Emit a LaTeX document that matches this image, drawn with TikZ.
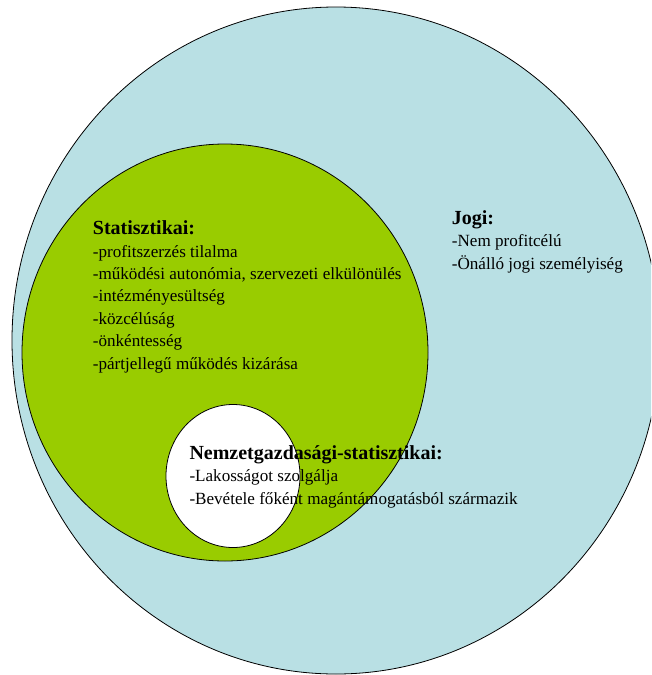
\documentclass[tikz,border=0pt]{standalone}
\usepackage{fontspec}
\setmainfont{Liberation Serif}
\usetikzlibrary{shapes.geometric}
\definecolor{jogikek}{RGB}{185,224,228}
\definecolor{statzold}{RGB}{153,204,0}
\tikzset{
  kor/.style={ellipse, draw=black, line width=0.8pt, inner sep=0pt},
  cimke/.style={align=left, inner sep=0pt, anchor=base west, font=\fontsize{17.1}{22.4}\selectfont},
}
\newcommand{\fejlec}[1]{{\fontsize{20}{22.4}\selectfont\bfseries #1}}
\begin{document}
\begin{tikzpicture}[x=1pt, y=-1pt]
        \useasboundingbox (0,0) rectangle (651,675);
        \clip (0,0) rectangle (651,675);

        \draw (336, 340.5) node(jogi)[kor, fill=jogikek, minimum width=648pt, minimum height=667pt]{};
        \draw (225, 352.5) node(stat)[kor, fill=statzold, minimum width=406pt, minimum height=417pt]{};
        \draw (233, 476) node(nemzet)[kor, fill=white, minimum width=134pt, minimum height=143pt]{};

        % base = last line
        \draw (92.7, 369) node(stattext)[cimke]{\fejlec{Statisztikai:}\\-profitszerzés tilalma\\-működési autonómia, szervezeti elkülönülés\\-intézményesültség\\-közcélúság\\-önkéntesség\\-pártjellegű működés kizárása};
        \draw (451.7, 269) node(jogitext)[cimke]{\fejlec{Jogi:}\\-Nem profitcélú\\-Önálló jogi személyiség};
        \draw (189.3, 504) node(nemzettext)[cimke]{\fejlec{Nemzetgazdasági-statisztikai:}\\-Lakosságot szolgálja\\-Bevétele főként magántámogatásból származik};
\end{tikzpicture}
\end{document}
